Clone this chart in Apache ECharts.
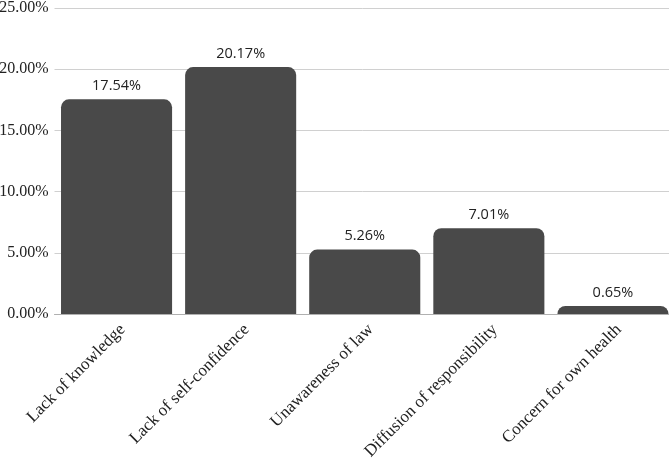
<!DOCTYPE html>
<html>
<head>
<meta charset="utf-8">
<script src="https://cdn.jsdelivr.net/npm/echarts@6/dist/echarts.min.js"></script>
<style>
html,body{margin:0;padding:0;background:#fff;}
#chart{width:669px;height:461px;}
</style>
</head>
<body>
<div id="chart"></div>
<script>
var categories = ['Lack of knowledge', 'Lack of self-confidence', 'Unawareness of law', 'Diffusion of responsibility', 'Concern for own health'];
var values = [17.54, 20.17, 5.26, 7.01, 0.65];

var myChart = echarts.init(document.getElementById('chart'));
var option = {
    animation: false,
    grid: { left: 54.5, right: -6, top: 8, bottom: 147, containLabel: false, outerBoundsMode: 'none' },
    xAxis: {
        type: 'category',
        data: categories,
        axisTick: { show: false },
        axisLine: { lineStyle: { color: '#b0b0b0' } },
        axisLabel: {
            rotate: 45,
            interval: 0,
            verticalAlign: 'top',
            fontFamily: 'Liberation Serif',
            fontSize: 17,
            color: '#222',
            margin: 7
        }
    },
    yAxis: {
        type: 'value',
        min: 0,
        max: 25,
        interval: 5,
        axisLabel: {
            formatter: function (v) { return v.toFixed(2) + '%'; },
            fontFamily: 'Liberation Serif',
            fontSize: 16,
            color: '#222',
            margin: 6
        },
        splitLine: { lineStyle: { color: '#d0d0d0' } }
    },
    series: [{
        type: 'bar',
        data: values,
        barCategoryGap: '10.5%',
        itemStyle: { color: '#494949', borderRadius: [8, 8, 0, 0] },
        label: {
            show: true,
            position: 'top',
            distance: 6,
            formatter: function (p) { return p.value.toFixed(2) + '%'; },
            fontFamily: 'Open Sans',
            fontSize: 14.5,
            color: '#222'
        }
    }]
};
myChart.setOption(option);
</script>
</body>
</html>
